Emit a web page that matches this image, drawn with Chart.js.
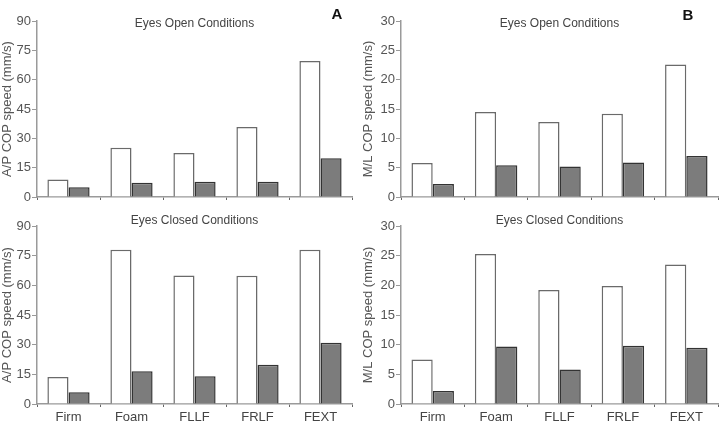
<!DOCTYPE html>
<html>
<head>
<meta charset="utf-8">
<script src="https://cdn.jsdelivr.net/npm/chart.js@4"></script>
<style>
  html, body { margin: 0; padding: 0; background: #fff; }
  #wrap { position: relative; width: 722px; height: 429px; overflow: hidden; }
  canvas { position: absolute; }
</style>
</head>
<body>
<div id="wrap">
  <canvas id="apOpen" width="361" height="215" style="left:0;top:0"></canvas>
  <canvas id="mlOpen" width="361" height="215" style="left:361px;top:0"></canvas>
  <canvas id="apClosed" width="361" height="215" style="left:0;top:214px"></canvas>
  <canvas id="mlClosed" width="361" height="215" style="left:361px;top:214px"></canvas>
</div>
<script>
// conditions on the x axis
const categories = ['Firm', 'Foam', 'FLLF', 'FRLF', 'FEXT'];

// A/P COP speed (mm/s)
const apOpenWhite = [9, 25.2, 22.5, 35.8, 69.5];
const apOpenGrey = [5, 7.3, 7.8, 7.8, 19.8];
const apClosedWhite = [13.6, 78, 65, 64.8, 78];
const apClosedGrey = [6, 16.6, 14, 19.8, 31];

// M/L COP speed (mm/s)
const mlOpenWhite = [5.8, 14.5, 12.8, 14.2, 22.6];
const mlOpenGrey = [2.2, 5.4, 5.2, 5.9, 7.0];
const mlClosedWhite = [7.5, 25.3, 19.2, 19.9, 23.5];
const mlClosedGrey = [2.2, 9.7, 5.8, 9.8, 9.5];

// y axis ranges
const apMax = 90, apStep = 15;
const mlMax = 30, mlStep = 5;

const FONT = '"Liberation Sans", Arial, sans-serif';

// draws the panel heading and the bold A/B letter
const panelText = {
  id: 'panelText',
  afterDraw(chart, args, opts) {
    const { ctx, chartArea } = chart;
    ctx.save();
    ctx.textAlign = 'center';
    ctx.textBaseline = 'middle';
    ctx.fillStyle = '#444';
    ctx.font = '12px ' + FONT;
    ctx.fillText(opts.title, (chartArea.left + chartArea.right) / 2, opts.titleY);
    if (opts.letter) {
      ctx.fillStyle = '#111';
      ctx.font = 'bold 15px ' + FONT;
      ctx.fillText(opts.letter, opts.letterX, opts.letterY);
    }
    ctx.restore();
  }
};

function makePanel(id, white, grey, cfg) {
  const el = document.getElementById(id);
  return new Chart(el, {
    type: 'bar',
    data: {
      labels: categories,
      datasets: [
        { label: 'open bar', data: white, backgroundColor: '#ffffff', borderColor: '#6a6a6a', borderWidth: 1.5, categoryPercentage: 0.67, barPercentage: 1 },
        { label: 'filled bar', data: grey, backgroundColor: '#7c7c7c', borderColor: '#333333', borderWidth: 1.5, categoryPercentage: 0.67, barPercentage: 1 }
      ]
    },
    options: {
      responsive: false,
      animation: false,
      devicePixelRatio: 1,
      layout: { padding: cfg.padding },
      plugins: {
        legend: { display: false },
        tooltip: { enabled: false },
        panelText: { title: cfg.title, titleY: cfg.titleY, letter: cfg.letter, letterX: cfg.letterX, letterY: cfg.letterY }
      },
      scales: {
        x: {
          afterFit: s => { s.height = cfg.xHeight; },
          border: { color: '#9a9a9a', width: 1.5 },
          grid: { drawOnChartArea: false, drawTicks: true, tickLength: 3, color: '#666' },
          ticks: { display: cfg.showLabels, color: '#444', padding: 3, font: { family: FONT, size: 13 } }
        },
        y: {
          min: 0,
          max: cfg.max,
          afterFit: s => { s.width = cfg.yWidth; },
          border: { color: '#9a9a9a', width: 1.5 },
          grid: { drawOnChartArea: false, drawTicks: true, tickLength: 5, color: '#9a9a9a' },
          ticks: { stepSize: cfg.step, color: '#555', padding: 1, font: { family: FONT, size: 13 } },
          title: { display: true, text: cfg.yTitle, color: '#555', padding: { top: 0, bottom: 0 }, font: { family: FONT, size: 13 } }
        }
      }
    },
    plugins: [panelText]
  });
}

makePanel('apOpen', apOpenWhite, apOpenGrey, {
  padding: { top: 21, right: 9, left: 0, bottom: 0 }, xHeight: 18, yWidth: 37, showLabels: false,
  max: apMax, step: apStep, yTitle: 'A/P COP speed (mm/s)',
  title: 'Eyes Open Conditions', titleY: 24, letter: 'A', letterX: 337, letterY: 15
});
makePanel('mlOpen', mlOpenWhite, mlOpenGrey, {
  padding: { top: 21, right: 4, left: 0, bottom: 0 }, xHeight: 18, yWidth: 40, showLabels: false,
  max: mlMax, step: mlStep, yTitle: 'M/L COP speed (mm/s)',
  title: 'Eyes Open Conditions', titleY: 24, letter: 'B', letterX: 327, letterY: 16
});
makePanel('apClosed', apClosedWhite, apClosedGrey, {
  padding: { top: 12, right: 9, left: 0, bottom: 0 }, xHeight: 25, yWidth: 37, showLabels: true,
  max: apMax, step: apStep, yTitle: 'A/P COP speed (mm/s)',
  title: 'Eyes Closed Conditions', titleY: 7
});
makePanel('mlClosed', mlClosedWhite, mlClosedGrey, {
  padding: { top: 12, right: 4, left: 0, bottom: 0 }, xHeight: 25, yWidth: 40, showLabels: true,
  max: mlMax, step: mlStep, yTitle: 'M/L COP speed (mm/s)',
  title: 'Eyes Closed Conditions', titleY: 7
});
</script>
</body>
</html>
